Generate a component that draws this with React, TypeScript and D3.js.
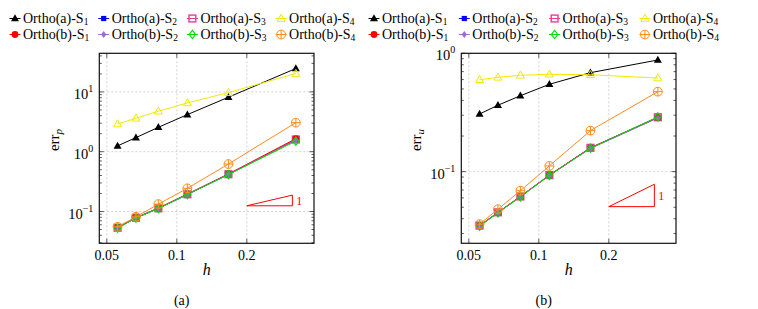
import * as d3 from 'd3'

// mesh sizes h
const H = [0.0556, 0.0667, 0.0833, 0.111, 0.1667, 0.325]

// (a) err_p
const aS1p = [1.25, 1.72, 2.56, 4.17, 8.15, 24.6]
const aS2p = [0.0533, 0.0784, 0.1127, 0.193, 0.418, 1.58]
const aS3p = [0.0535, 0.0786, 0.113, 0.194, 0.42, 1.6]
const aS4p = [2.91, 3.63, 4.75, 6.54, 9.73, 20.3]
const bS1p = [0.054, 0.079, 0.114, 0.196, 0.425, 1.65]
const bS2p = [0.0533, 0.0784, 0.1127, 0.193, 0.418, 1.56]
const bS3p = [0.0528, 0.0778, 0.112, 0.192, 0.415, 1.5]
const bS4p = [0.0554, 0.0815, 0.133, 0.244, 0.622, 3.06]

// (b) err_u
const aS1u = [0.307, 0.364, 0.438, 0.547, 0.686, 0.878]
const aS2u = [0.0348, 0.0451, 0.0615, 0.0932, 0.158, 0.286]
const aS3u = [0.035, 0.0453, 0.0617, 0.0935, 0.159, 0.288]
const aS4u = [0.598, 0.627, 0.652, 0.665, 0.659, 0.618]
const bS1u = [0.0349, 0.0452, 0.0616, 0.0934, 0.159, 0.287]
const bS2u = [0.0347, 0.045, 0.0613, 0.093, 0.157, 0.284]
const bS3u = [0.0346, 0.0449, 0.0612, 0.0928, 0.158, 0.29]
const bS4u = [0.036, 0.0481, 0.069, 0.1117, 0.222, 0.474]

// slope triangles
const triH = [0.2, 0.314]
const triP = [0.1246, 0.188]
const triU = [0.0506, 0.0782]

const xTicks = [0.05, 0.1, 0.2]
const xTickLabels = ['0.05', '0.1', '0.2']

const names = ['Ortho(a)', 'Ortho(a)', 'Ortho(a)', 'Ortho(a)', 'Ortho(b)', 'Ortho(b)', 'Ortho(b)', 'Ortho(b)']
const subs = ['1', '2', '3', '4', '1', '2', '3', '4']
const colors = ['#000000', '#0000ff', '#e63c96', '#f2ea00', '#ff0000', '#9a6ad6', '#00dd00', '#ff8a1c']
const shapes = ['tri', 'sq', 'osq', 'otri', 'circ', 'dia', 'odia', 'oplus']

const FONT = "'Liberation Serif', 'Times New Roman', 'DejaVu Serif', serif"

const Marker = ({ shape, x, y, c }) => {
  switch (shape) {
    case 'tri':
      return <path d={`M${x},${y - 4.2}L${x + 4},${y + 2.8}L${x - 4},${y + 2.8}Z`} fill={c} />
    case 'otri':
      return <path d={`M${x},${y - 4.2}L${x + 4},${y + 2.8}L${x - 4},${y + 2.8}Z`} fill="none" stroke={c} strokeWidth={1} />
    case 'sq':
      return <rect x={x - 2.6} y={y - 2.6} width={5.2} height={5.2} fill={c} />
    case 'osq':
      return <rect x={x - 3.4} y={y - 3.4} width={6.8} height={6.8} fill="none" stroke={c} strokeWidth={1.4} />
    case 'circ':
      return <circle cx={x} cy={y} r={3.4} fill={c} />
    case 'dia':
      return <path d={`M${x},${y - 3.6}L${x + 2.6},${y}L${x},${y + 3.6}L${x - 2.6},${y}Z`} fill={c} />
    case 'odia':
      return <path d={`M${x},${y - 4.2}L${x + 3.2},${y}L${x},${y + 4.2}L${x - 3.2},${y}Z`} fill="none" stroke={c} strokeWidth={1.1} />
    default:
      return (
        <g stroke={c} strokeWidth={1} fill="none">
          <circle cx={x} cy={y} r={4.4} />
          <path d={`M${x - 4.4},${y}H${x + 4.4}M${x},${y - 4.4}V${y + 4.4}`} />
        </g>
      )
  }
}

const Panel = ({ x0, yDomain, series, yTicks, ySub, tri, caption }) => {
  const x1 = x0 + 214.7
  const y0 = 53.3
  const y1 = 243.3
  const x = d3.scaleLog().domain([0.0464, 0.389]).range([x0, x1])
  const y = d3.scaleLog().domain(yDomain).range([y1, y0])
  const line = d3.line().x((d, i) => x(H[i])).y(d => y(d))
  const minors = []
  for (let e = -3; e <= 2; e++) {
    for (let m = 2; m <= 9; m++) {
      const v = m * Math.pow(10, e)
      if (v > yDomain[0] && v < yDomain[1]) minors.push(v)
    }
  }
  const cx = (x0 + x1) / 2
  return (
    <g style={{ fontFamily: FONT }}>
      {/* grid */}
      <g stroke="#c8c8c8" strokeDasharray="2,2" strokeWidth={0.8}>
        {xTicks.map(t => <line key={t} x1={x(t)} x2={x(t)} y1={y0} y2={y1} />)}
        {yTicks.map(t => <line key={t} x1={x0} x2={x1} y1={y(t)} y2={y(t)} />)}
      </g>
      {/* ticks */}
      <g stroke="#333" strokeWidth={0.8}>
        {minors.map(t => <g key={t}>
          <line x1={x0} x2={x0 + 2.5} y1={y(t)} y2={y(t)} />
          <line x1={x1} x2={x1 - 2.5} y1={y(t)} y2={y(t)} />
        </g>)}
        {yTicks.map(t => <g key={t}>
          <line x1={x0} x2={x0 + 4.5} y1={y(t)} y2={y(t)} />
          <line x1={x1} x2={x1 - 4.5} y1={y(t)} y2={y(t)} />
        </g>)}
        {xTicks.map(t => <g key={t}>
          <line x1={x(t)} x2={x(t)} y1={y1} y2={y1 - 4.5} />
          <line x1={x(t)} x2={x(t)} y1={y0} y2={y0 + 4.5} />
        </g>)}
      </g>
      {/* series */}
      {series.map((s, k) => (
        <g key={k}>
          <path d={line(s)} fill="none" stroke={colors[k]} strokeWidth={1} />
          {s.map((v, i) => <Marker key={i} shape={shapes[k]} x={x(H[i])} y={y(v)} c={colors[k]} />)}
        </g>
      ))}
      {/* slope triangle */}
      <path d={`M${x(triH[0])},${y(tri[0])}L${x(triH[1])},${y(tri[1])}L${x(triH[1])},${y(tri[0])}Z`}
        fill="none" stroke="#ff0000" strokeWidth={1} />
      <text x={x(triH[1]) + 4} y={(y(tri[0]) + y(tri[1])) / 2 + 4.5} fontSize={12} fill="#ff0000">1</text>
      {/* frame */}
      <rect x={x0} y={y0} width={x1 - x0} height={y1 - y0} fill="none" stroke="#111" strokeWidth={1.2} />
      {/* labels */}
      {xTicks.map((t, i) => (
        <text key={t} x={x(t)} y={260} fontSize={14} textAnchor="middle">{xTickLabels[i]}</text>
      ))}
      {yTicks.map(t => (
        <text key={t} x={x0 - 6} y={y(t) + 7} fontSize={14.5} textAnchor="end">
          10<tspan dy={-7} fontSize={10}>{Math.round(Math.log10(t)) < 0 ? '\u2212' + Math.abs(Math.round(Math.log10(t))) : Math.round(Math.log10(t))}</tspan>
        </text>
      ))}
      <text x={cx} y={275} fontSize={16} fontStyle="italic" textAnchor="middle">h</text>
      <text transform={`translate(${x0 - 40},140) rotate(-90)`} fontSize={15} textAnchor="middle">
        err<tspan dy={3} fontSize={11} fontStyle="italic">{ySub}</tspan>
      </text>
      <text x={cx - 25} y={305} fontSize={14} textAnchor="middle">{caption}</text>
    </g>
  )
}

const Legend = ({ x0, step }) => (
  <g style={{ fontFamily: FONT }} fontSize={14}>
    {names.map((n, k) => {
      const col = k % 4
      const row = Math.floor(k / 4)
      const mx = x0 + col * step
      const my = row === 0 ? 18.5 : 34.5
      return (
        <g key={k}>
          <line x1={mx - 5.5} x2={mx + 5.5} y1={my} y2={my} stroke={colors[k]} strokeWidth={1} />
          <Marker shape={shapes[k]} x={mx} y={my} c={colors[k]} />
          <text x={mx + 8} y={my + 4.5}>{n}-S<tspan dy={2} fontSize={9.5}>{subs[k]}</tspan></text>
        </g>
      )
    })}
  </g>
)

const App = () => {
  const seriesP = [aS1p, aS2p, aS3p, aS4p, bS1p, bS2p, bS3p, bS4p]
  const seriesU = [aS1u, aS2u, aS3u, aS4u, bS1u, bS2u, bS3u, bS4u]
  return (
    <svg width={758} height={309} style={{ position: 'absolute', left: 0, top: 0, background: '#fff' }}>
      <Legend x0={15} step={88.7} />
      <Legend x0={374} step={90.3} />
      <Panel x0={99.3} yDomain={[0.0294, 44.2]} series={seriesP} yTicks={[0.1, 1, 10]} ySub="p" tri={triP} caption="(a)" />
      <Panel x0={461.3} yDomain={[0.0248, 1.0]} series={seriesU} yTicks={[0.1, 1]} ySub="u" tri={triU} caption="(b)" />
    </svg>
  )
}

export default App
